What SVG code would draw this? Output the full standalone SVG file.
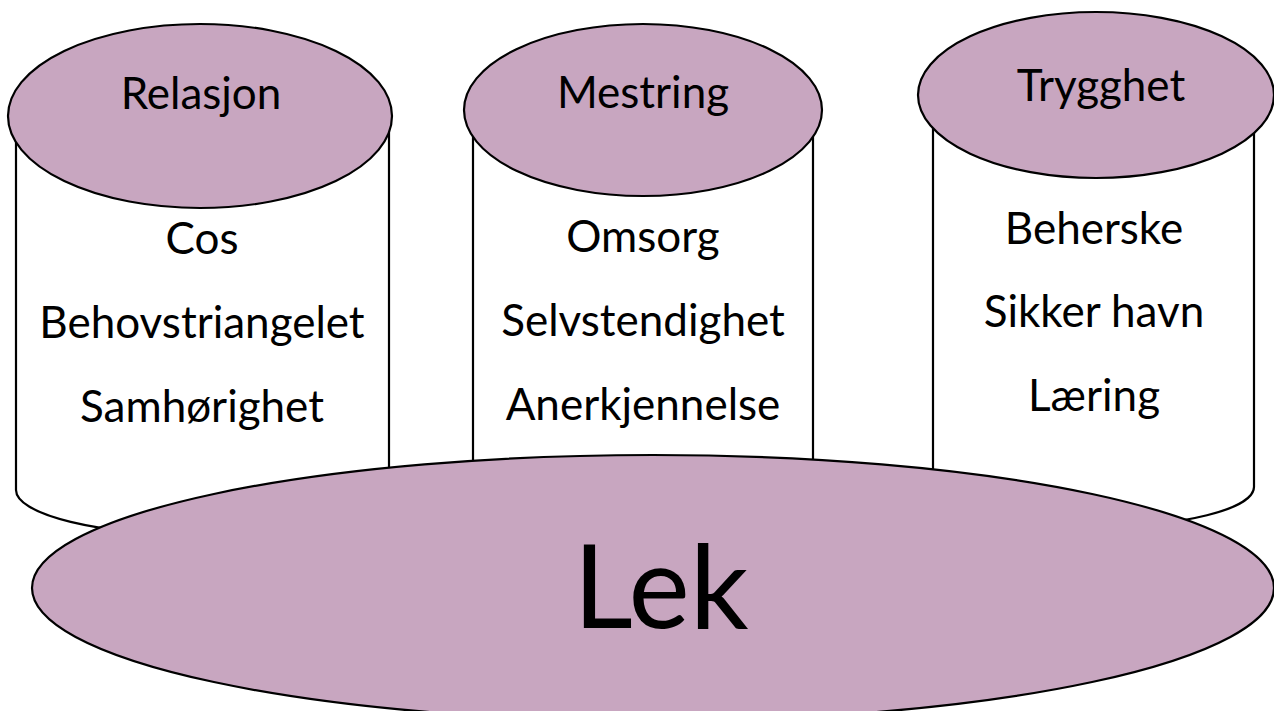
<svg xmlns="http://www.w3.org/2000/svg" width="1274" height="711" viewBox="0 0 1274 711">
<style>
.body{fill:#ffffff;stroke:#000;stroke-width:2.2}
.top{fill:#C8A6C0;stroke:#000;stroke-width:2.2}
.t{font-family:Lato,"Liberation Sans",sans-serif;font-size:44px;fill:#000;text-anchor:middle}
.big{font-family:Lato,"Liberation Sans",sans-serif;font-size:116px;fill:#000;text-anchor:middle}
</style>
<rect width="1274" height="711" fill="#ffffff"/>
<g id="relasjon">
<path class="body" d="M16,116 L16,490 A186.5,45 0 0 0 389,490 L389,116"/>
<ellipse class="top" cx="200" cy="116" rx="192" ry="92"/>
<text class="t" x="201" y="109">Relasjon</text>
<text class="t" x="202" y="254">Cos</text>
<text class="t" x="202" y="338">Behovstriangelet</text>
<text class="t" x="202" y="422">Samhørighet</text>
</g>
<g id="mestring">
<path class="body" d="M473,110 L473,480 A170,42 0 0 0 813,480 L813,110"/>
<ellipse class="top" cx="643" cy="110" rx="179" ry="86"/>
<text class="t" x="643" y="108">Mestring</text>
<text class="t" x="643" y="252">Omsorg</text>
<text class="t" x="643" y="336">Selvstendighet</text>
<text class="t" x="643" y="420">Anerkjennelse</text>
</g>
<g id="trygghet">
<path class="body" d="M933,95 L933,487 A160.5,40 0 0 0 1254,487 L1254,95"/>
<ellipse class="top" cx="1096" cy="95" rx="178" ry="83"/>
<text class="t" x="1101" y="101">Trygghet</text>
<text class="t" x="1094" y="244">Beherske</text>
<text class="t" x="1094" y="327">Sikker havn</text>
<text class="t" x="1094" y="411">Læring</text>
</g>
<g id="lek">
<ellipse class="top" cx="653" cy="588" rx="621" ry="133"/>
<text class="big" x="661" y="628">Lek</text>
</g>
<g id="connectors"/>
</svg>
